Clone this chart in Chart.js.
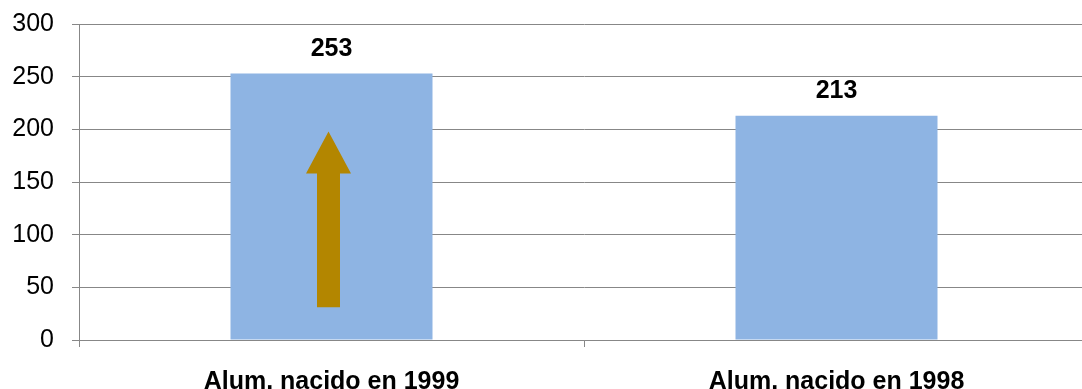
<!DOCTYPE html>
<html>
<head>
<meta charset="utf-8">
<script src="https://cdn.jsdelivr.net/npm/chart.js@4/dist/chart.umd.min.js"></script>
<style>
  html, body { margin: 0; padding: 0; background: #ffffff; overflow: hidden; }
  #cadre { position: relative; width: 1092px; height: 417px; }
</style>
</head>
<body>
<div id="cadre"><canvas id="graphique"></canvas></div>
<script>
// Données du graphique
const categories = ["Alum. nacido en 1999", "Alum. nacido en 1998"];
const valeurs = [253, 213];
const ticksY = [0, 50, 100, 150, 200, 250, 300];

// Flèche dessinée dans la première barre (en unités de l'axe Y)
const fleche = { index: 0, bas: 31, baseTete: 158, pointe: 198 };

const gris = "#878787";
const police = "'Liberation Sans', Arial, sans-serif";

// Plugin : valeurs au-dessus des barres + flèche
const pluginEtiquettes = {
  id: "etiquettes",
  afterDatasetsDraw(chart) {
    const ctx = chart.ctx;
    const meta = chart.getDatasetMeta(0);
    ctx.save();
    ctx.fillStyle = "#000000";
    ctx.font = "bold 25px " + police;
    ctx.textAlign = "center";
    ctx.textBaseline = "alphabetic";
    meta.data.forEach((barre, i) => {
      ctx.fillText(String(valeurs[i]), barre.x, barre.y - 18);
    });

    // flèche
    const y = chart.scales.y;
    const barre = meta.data[fleche.index];
    const cx = barre.x - 3;
    const demiTige = 11.5;
    const demiTete = 22.5;
    const yBas = y.getPixelForValue(fleche.bas);
    const yBase = y.getPixelForValue(fleche.baseTete);
    const yPointe = y.getPixelForValue(fleche.pointe);
    ctx.fillStyle = "#b38600";
    ctx.beginPath();
    ctx.moveTo(cx - demiTige, yBas);
    ctx.lineTo(cx - demiTige, yBase);
    ctx.lineTo(cx - demiTete, yBase);
    ctx.lineTo(cx, yPointe);
    ctx.lineTo(cx + demiTete, yBase);
    ctx.lineTo(cx + demiTige, yBase);
    ctx.lineTo(cx + demiTige, yBas);
    ctx.closePath();
    ctx.fill();
    ctx.restore();
  }
};

const config = {
  type: "bar",
  data: {
    labels: categories,
    datasets: [{
      data: valeurs,
      backgroundColor: "#8eb4e3",
      borderWidth: 0,
      barPercentage: 0.4,
      categoryPercentage: 1
    }]
  },
  options: {
    responsive: true,
    maintainAspectRatio: false,
    animation: false,
    layout: { padding: { top: 24, left: 10, right: 3, bottom: 0 } },
    plugins: {
      legend: { display: false },
      tooltip: { enabled: false }
    },
    scales: {
      x: {
        grid: { display: true, drawOnChartArea: false, color: gris, tickLength: 7, offset: true },
        border: { color: gris, width: 1 },
        ticks: {
          color: "#000000",
          padding: 20,
          maxRotation: 0,
          font: { family: police, size: 25, weight: "bold" }
        }
      },
      y: {
        min: 0,
        max: 300,
        afterBuildTicks(axis) {
          axis.ticks = ticksY.map(v => ({ value: v }));
        },
        afterFit(axis) {
          axis.width = 69;
          axis.paddingTop = 0;
          axis.paddingBottom = 0;
        },
        grid: { color: gris, tickLength: 7 },
        border: { color: gris, width: 1 },
        ticks: {
          color: "#000000",
          padding: 18,
          font: { family: police, size: 25 }
        }
      }
    }
  },
  plugins: [pluginEtiquettes]
};

new Chart(document.querySelector("#graphique"), config);
</script>
</body>
</html>
